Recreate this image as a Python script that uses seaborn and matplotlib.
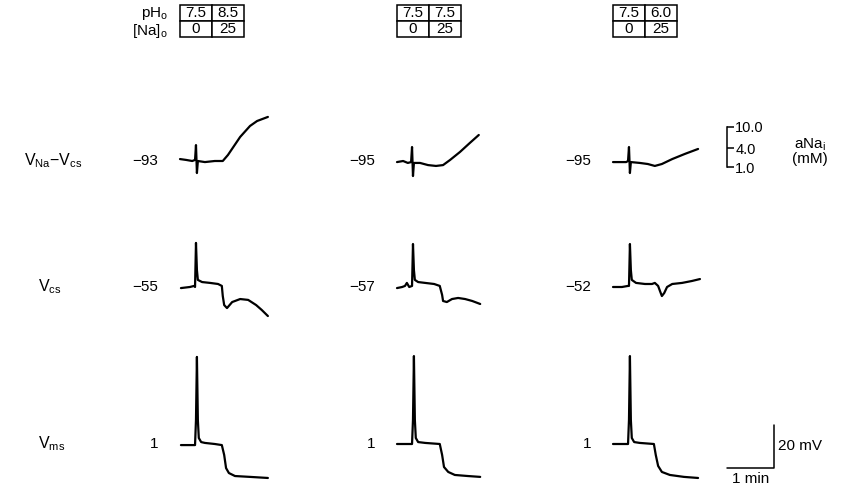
import matplotlib
matplotlib.use('Agg')
import matplotlib.pyplot as plt
import seaborn as sns

# --- data ----------------------------------------------------------------
# time in min from the start of each sweep, voltage in mV relative to the
# resting level printed to the left of each trace
vna_t = [
    [0, 0.13, 0.26, 0.32, 0.34, 0.36, 0.38, 0.53, 0.74, 0.91, 1.02, 1.15, 1.28, 1.49, 1.64, 1.87],
    [0, 0.13, 0.23, 0.30, 0.32, 0.34, 0.36, 0.49, 0.66, 0.83, 0.98, 1.13, 1.34, 1.55, 1.74],
    [0, 0.15, 0.28, 0.32, 0.34, 0.36, 0.38, 0.57, 0.74, 0.89, 1.04, 1.26, 1.53, 1.81],
]
vna_v = [
    [0.9, 0.5, 0, 0.5, 7.4, -5.6, 0, -0.5, 0, 0, 2.8, 7.0, 11.2, 16.3, 18.6, 20.5],
    [-0.5, 0, -0.9, -0.5, 6.5, -7.0, -0.9, -0.9, -1.9, -2.3, -1.9, 0.5, 4.2, 8.4, 12.1],
    [-0.5, -0.5, -0.5, 0, 6.5, -5.6, -0.5, -0.9, -1.4, -2.3, -1.4, 0.9, 3.3, 5.6],
]
vcs_t = [
    [0.02, 0.21, 0.30, 0.32, 0.34, 0.36, 0.38, 0.47, 0.64, 0.81, 0.89, 0.91, 0.94, 1.00, 1.11, 1.28, 1.45, 1.62, 1.74, 1.87],
    [0, 0.11, 0.17, 0.21, 0.26, 0.32, 0.34, 0.36, 0.38, 0.45, 0.60, 0.79, 0.91, 0.96, 0.98, 1.06, 1.17, 1.30, 1.45, 1.60, 1.77],
    [0, 0.19, 0.32, 0.34, 0.36, 0.38, 0.40, 0.49, 0.68, 0.83, 0.89, 0.96, 1.00, 1.04, 1.09, 1.15, 1.26, 1.47, 1.68, 1.85],
]
vcs_v = [
    [-0.5, 0, 0.5, 0, 20.5, 7.9, 3.3, 2.3, 1.9, 1.4, 0.5, -4.2, -8.4, -9.8, -7.0, -5.6, -6.0, -8.4, -10.7, -13.5],
    [-0.5, 0, 0.5, 1.9, 0, 0.5, 20.0, 7.9, 3.3, 2.3, 1.9, 1.4, 0.5, -3.7, -6.5, -7.0, -5.6, -5.1, -5.6, -6.5, -7.9],
    [0, 0, 0.5, 0.5, 20.0, 7.9, 3.3, 1.9, 1.4, 1.4, 1.9, 0.5, -1.9, -4.2, -2.8, 0, 1.4, 1.9, 2.8, 3.7],
]
vms_t = [
    [0.02, 0.21, 0.32, 0.34, 0.36, 0.38, 0.40, 0.45, 0.53, 0.74, 0.89, 0.94, 0.98, 1.04, 1.17, 1.49, 1.87],
    [0, 0.17, 0.32, 0.34, 0.36, 0.38, 0.40, 0.45, 0.60, 0.91, 0.96, 1.00, 1.09, 1.23, 1.51, 1.77],
    [0, 0.19, 0.32, 0.34, 0.36, 0.38, 0.40, 0.45, 0.57, 0.87, 0.91, 0.96, 1.04, 1.21, 1.51, 1.81],
]
vms_v = [
    [-0.5, -0.5, -0.5, 11.2, 40.5, 11.2, 2.8, 0.9, 0.5, 0, -0.5, -5.1, -11.2, -13.5, -14.9, -15.3, -15.8],
    [0, 0, 0, 11.2, 40.9, 11.2, 2.8, 0.9, 0.5, 0, -5.1, -10.7, -13.0, -14.4, -14.9, -15.3],
    [0, 0, 0, 11.2, 40.9, 11.2, 2.8, 0.9, 0.5, 0, -5.1, -10.2, -13.0, -14.4, -15.3, -15.8],
]

vna_rest = [-93, -95, -95]
vcs_rest = [-55, -57, -52]
vms_rest = [1, 1, 1]

ph_control = ['7.5', '7.5', '7.5']
ph_test = ['8.5', '7.5', '6.0']
na_control = '0'
na_test = '25'

# aNa_i calibration of the VNa-Vcs trace (mV above rest)
ana_labels = ['1.0', '4.0', '10.0']
ana_mv = [-3, 6, 16]

scale_min = 1
scale_mv = 20

# --- layout (pixels) -----------------------------------------------------
W, H = 865, 498
PX_MIN = 47.0
PX_MV = 2.15
col_start = [180, 397, 613]
row_base = [161, 287, 444]
row_top = [100, 225, 340]
row_bot = [190, 330, 492]
T0, T1 = -0.2, 2.2


def rect(x0, y0, x1, y1):
    return [x0 / W, 1 - y1 / H, (x1 - x0) / W, (y1 - y0) / H]


def ylims(r):
    return ((row_base[r] - row_bot[r]) / PX_MV, (row_base[r] - row_top[r]) / PX_MV)


sns.set_theme(style='white')
plt.rcParams['font.family'] = ['Liberation Sans', 'DejaVu Sans']
plt.rcParams['text.color'] = 'black'
plt.rcParams['mathtext.fontset'] = 'custom'
plt.rcParams['mathtext.rm'] = 'Liberation Sans'
plt.rcParams['mathtext.it'] = 'Liberation Sans:italic'

fig = plt.figure(figsize=(W / 100, H / 100), dpi=100)
fig.patch.set_facecolor('white')

rows = [(vna_t, vna_v, vna_rest), (vcs_t, vcs_v, vcs_rest), (vms_t, vms_v, vms_rest)]
row_names = [r'V$_\mathrm{Na}$$-$V$_\mathrm{cs}$', r'V$_\mathrm{cs}$', r'V$_\mathrm{ms}$']
row_name_x = [24, 38, 38]

for r, (ts, vs, rest) in enumerate(rows):
    fig.text(row_name_x[r] / W, 1 - row_base[r] / H, row_names[r],
             ha='left', va='center', fontsize=11.5, color='black')
    for c in range(3):
        s = col_start[c]
        ax = fig.add_axes(rect(s + T0 * PX_MIN, row_top[r], s + T1 * PX_MIN, row_bot[r]))
        sns.lineplot(x=ts[c], y=vs[c], ax=ax, color='black', linewidth=1.6,
                     sort=False, estimator=None)
        ax.set_xlim(T0, T1)
        ax.set_ylim(*ylims(r))
        ax.axis('off')
        for line in ax.lines:
            line.set_clip_on(False)
        lab = str(rest[c]).replace('-', '\u2212')
        fig.text((s - 22) / W, 1 - row_base[r] / H, lab,
                 ha='right', va='center', fontsize=11, color='black')

# solution tables
for c in range(3):
    s = col_start[c]
    tax = fig.add_axes(rect(s, 5, s + 64, 37))
    tax.axis('off')
    tbl = tax.table(cellText=[[ph_control[c], ph_test[c]], [na_control, na_test]],
                    cellLoc='center', bbox=[0, 0, 1, 1])
    tbl.auto_set_font_size(False)
    tbl.set_fontsize(11)
    for cell in tbl.get_celld().values():
        cell.set_linewidth(1.1)
        cell.set_edgecolor('black')
        cell.get_text().set_color('black')

fig.text(168 / W, 1 - 13 / H, r'pH$_\mathrm{o}$', ha='right', va='center', fontsize=11)
fig.text(168 / W, 1 - 31 / H, r'[Na]$_\mathrm{o}$', ha='right', va='center', fontsize=11)

# aNa_i calibration bracket
bax = fig.add_axes(rect(700, row_top[0], 727, row_bot[0]))
bax.set_ylim(*ylims(0))
bax.patch.set_visible(False)
for side in ['left', 'top', 'bottom']:
    bax.spines[side].set_visible(False)
bax.spines['right'].set_bounds(ana_mv[0], ana_mv[-1])
bax.spines['right'].set_linewidth(1.1)
bax.spines['right'].set_color('black')
bax.yaxis.tick_right()
bax.set_yticks(ana_mv, labels=ana_labels)
bax.set_xticks([])
bax.tick_params(axis='y', direction='out', length=5, width=1.1, pad=1,
                labelsize=10.5, colors='black')
fig.text(810 / W, 1 - 145 / H, r'aNa$_\mathrm{i}$', ha='center', va='center', fontsize=11)
fig.text(810 / W, 1 - 159 / H, '(mM)', ha='center', va='center', fontsize=11)

# 20 mV / 1 min scale bar
sax = fig.add_axes(rect(720, row_top[2], 840, row_bot[2]))
sax.set_xlim(-7 / PX_MIN, (120 - 7) / PX_MIN)
sax.set_ylim(*ylims(2))
sax.axis('off')
y0 = -11
sns.lineplot(x=[0, scale_min, scale_min], y=[y0, y0, y0 + scale_mv], ax=sax,
             color='black', linewidth=1.1, sort=False, estimator=None)
sax.text(scale_min + 0.08, y0 + scale_mv / 2, f'{scale_mv} mV', ha='left', va='center', fontsize=11)
sax.text(scale_min / 2, y0 - 2.0, f'{scale_min} min', ha='center', va='top', fontsize=11)

fig.savefig('out.png', dpi=100)
